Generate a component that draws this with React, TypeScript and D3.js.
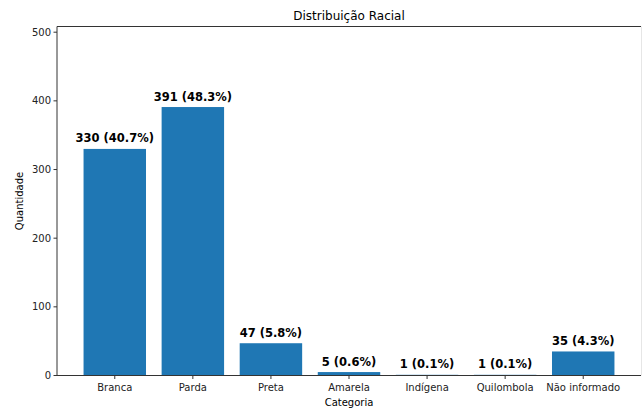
import React from "react";
import * as d3 from "d3";

const categories = ["Branca", "Parda", "Preta", "Amarela", "Indígena", "Quilombola", "Não informado"];
const values = [330, 391, 47, 5, 1, 1, 35];
const percents = ["40.7%", "48.3%", "5.8%", "0.6%", "0.1%", "0.1%", "4.3%"];
const yTicks = [0, 100, 200, 300, 400, 500];

const W = 642, H = 408;
const left = 57, right = 641, top = 26.5, bottom = 375.5;
const font = "DejaVu Sans, sans-serif";

export default function App() {
  const n = categories.length;
  const pad = 0.05 * (n - 1 + 0.8);
  const x = d3.scaleLinear().domain([-0.4 - pad, n - 1 + 0.4 + pad]).range([left, right]);
  const ymax = d3.max(values)! * 1.3;
  const y = d3.scaleLinear().domain([0, ymax]).range([bottom, top]);
  const bw = x(0.8) - x(0);
  const color = "#1f77b4";
  const axisColor = "#333";
  return (
    <svg width={W} height={H} style={{ position: "absolute", left: 0, top: 0 }} fontFamily={font}>
      <rect width={W} height={H} fill="white" />
      {values.map((v, i) => (
        <rect key={i} x={x(i - 0.4)} y={y(v)} width={bw} height={y(0) - y(v)} fill={color} />
      ))}
      {values.map((v, i) => (
        <text key={"l" + i} x={x(i)} y={y(v) - 6.5} textAnchor="middle" fontSize={11.5} fontWeight="bold" fill="#000">
          {`${v} (${percents[i]})`}
        </text>
      ))}
      {/* spines */}
      <line x1={left} x2={left} y1={top} y2={bottom} stroke={axisColor} strokeWidth={1} />
      <line x1={left} x2={right} y1={bottom} y2={bottom} stroke={axisColor} strokeWidth={1} />
      <line x1={left} x2={right} y1={top} y2={top} stroke={axisColor} strokeWidth={1} />
      <line x1={right + 0.5} x2={right + 0.5} y1={top} y2={bottom} stroke="#e6e6e6" strokeWidth={1} />
      {yTicks.map((t) => (
        <g key={t}>
          <line x1={left - 3.5} x2={left} y1={y(t)} y2={y(t)} stroke={axisColor} />
          <text x={left - 6} y={y(t)} dy="0.35em" textAnchor="end" fontSize={10} fill="#222">{t}</text>
        </g>
      ))}
      {categories.map((c, i) => (
        <g key={c}>
          <line x1={x(i)} x2={x(i)} y1={bottom} y2={bottom + 3.5} stroke={axisColor} />
          <text x={x(i)} y={bottom + 15.5} textAnchor="middle" fontSize={10} fill="#222">{c}</text>
        </g>
      ))}
      <text x={(left + right) / 2} y={20} textAnchor="middle" fontSize={12} fill="#000">Distribuição Racial</text>
      <text x={(left + right) / 2} y={406} textAnchor="middle" fontSize={10} fill="#000">Categoria</text>
      <text transform={`translate(23,${(top + bottom) / 2}) rotate(-90)`} textAnchor="middle" fontSize={10} fill="#000">Quantidade</text>
    </svg>
  );
}
